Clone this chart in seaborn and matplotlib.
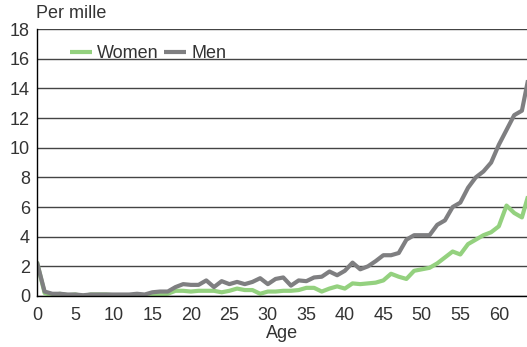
import pandas as pd
import numpy as np
import matplotlib
matplotlib.use("Agg")
import matplotlib.pyplot as plt
import seaborn as sns

# Data (per mille by age)
ages = list(range(0, 65))
women = [2.3, 0.2, 0.05, 0.15, 0.05, 0.1, 0.0, 0.1, 0.1, 0.1,
         0.05, 0.05, 0.05, 0.05, 0.0, 0.1, 0.1, 0.15, 0.35, 0.35,
         0.3, 0.35, 0.35, 0.35, 0.25, 0.35, 0.5, 0.4, 0.4, 0.15,
         0.3, 0.3, 0.35, 0.35, 0.4, 0.55, 0.55, 0.3, 0.5, 0.65,
         0.5, 0.85, 0.8, 0.85, 0.9, 1.05, 1.5, 1.3, 1.15, 1.7,
         1.8, 1.9, 2.2, 2.6, 3.0, 2.8, 3.5, 3.8, 4.1, 4.3,
         4.7, 6.1, 5.6, 5.3, 7.1]
men = [2.3, 0.3, 0.15, 0.15, 0.1, 0.1, 0.05, 0.1, 0.1, 0.1,
       0.1, 0.1, 0.1, 0.15, 0.1, 0.25, 0.3, 0.3, 0.6, 0.8,
       0.75, 0.75, 1.05, 0.6, 1.0, 0.8, 0.95, 0.8, 0.95, 1.2,
       0.8, 1.15, 1.25, 0.7, 1.05, 1.0, 1.25, 1.3, 1.65, 1.4,
       1.7, 2.25, 1.8, 2.0, 2.35, 2.75, 2.75, 2.9, 3.8, 4.1,
       4.1, 4.1, 4.8, 5.1, 6.0, 6.3, 7.3, 8.0, 8.4, 9.0,
       10.2, 11.2, 12.2, 12.5, 15.1]
y_ticks = [0, 2, 4, 6, 8, 10, 12, 14, 16, 18]
x_ticks = [0, 5, 10, 15, 20, 25, 30, 35, 40, 45, 50, 55, 60]

df = pd.DataFrame({
    'age': ages + ages,
    'value': women + men,
    'sex': ['Women'] * len(ages) + ['Men'] * len(ages),
})

sns.set_style('white')
plt.rcParams['font.family'] = ['Liberation Sans', 'DejaVu Sans']
txt = '#333333'

fig = plt.figure(figsize=(5.27, 3.47), dpi=100)
ax = fig.add_axes([0.070, 0.147, 0.930, 0.769])

sns.lineplot(data=df, x='age', y='value', hue='sex',
             palette={'Women': '#94d17f', 'Men': '#7f7f81'},
             linewidth=3, ax=ax, solid_capstyle='butt')

ax.set_xlim(0, 63.66)
ax.set_ylim(0, 18)
ax.set_yticks(y_ticks)
ax.set_xticks(x_ticks)
ax.tick_params(axis='y', length=0, labelsize=13, pad=5, labelcolor=txt)
ax.tick_params(axis='x', length=5, width=1, labelsize=13, direction='out',
               color='black', pad=3, labelcolor=txt)
ax.yaxis.grid(True, color='#444444', linewidth=1)
ax.set_axisbelow(True)
for s in ['top', 'right']:
    ax.spines[s].set_visible(False)
for s in ['left', 'bottom']:
    ax.spines[s].set_color('black')
    ax.spines[s].set_linewidth(1)
ax.set_xlabel('Age', fontsize=13, labelpad=1, color=txt)
ax.set_ylabel('')
fig.text(0.068, 0.937, 'Per mille', fontsize=13, ha='left', va='bottom', color=txt)

ax.legend(title=None, ncol=2, frameon=False, loc='upper left',
          bbox_to_anchor=(0.035, 1.0), fontsize=13, handlelength=1.2,
          handletextpad=0.3, columnspacing=0.3, labelcolor=txt)

plt.savefig('out.png', dpi=100)
